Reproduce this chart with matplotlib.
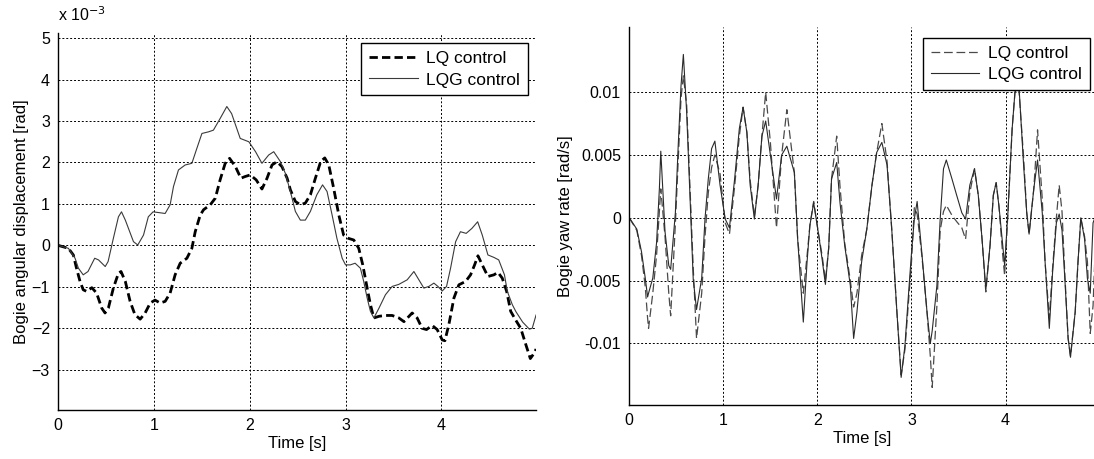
import numpy as np
import matplotlib
matplotlib.use("Agg")
import matplotlib.pyplot as plt

plt.rcParams["font.family"] = ["Liberation Sans", "DejaVu Sans"]

# [DATA] left panel: bogie angular displacement, units of 1e-3 rad
t_lqg = [0, 0.105, 0.175, 0.21, 0.26, 0.31, 0.38, 0.42, 0.49, 0.52, 0.575, 0.628, 0.66, 0.70,
         0.785, 0.83, 0.89, 0.94, 0.99, 1.116, 1.168, 1.203, 1.255, 1.325, 1.395, 1.447, 1.50,
         1.57, 1.62, 1.69, 1.76, 1.81, 1.90, 1.99, 2.06, 2.127, 2.197, 2.25, 2.32, 2.371, 2.424,
         2.476, 2.528, 2.58, 2.633, 2.70, 2.76, 2.807, 2.86, 2.91, 2.965, 3.0, 3.05, 3.10, 3.155,
         3.19, 3.226, 3.26, 3.296, 3.35, 3.417, 3.487, 3.557, 3.644, 3.714, 3.766, 3.818, 3.87,
         3.923, 3.965, 4.01, 4.055, 4.097, 4.15, 4.2, 4.26, 4.32, 4.38, 4.428, 4.487, 4.55, 4.60,
         4.66, 4.69, 4.742, 4.78, 4.85, 4.92, 4.95, 4.99]
disp_lqg = [0, -0.07, -0.31, -0.55, -0.71, -0.63, -0.31, -0.35, -0.51, -0.39, 0.17, 0.69, 0.81,
            0.61, 0.09, 0.01, 0.25, 0.69, 0.81, 0.77, 0.98, 1.42, 1.82, 1.94, 1.98, 2.34, 2.70,
            2.74, 2.78, 3.06, 3.35, 3.18, 2.58, 2.50, 2.26, 1.98, 2.18, 2.26, 2.02, 1.74, 1.30,
            0.82, 0.61, 0.61, 0.82, 1.22, 1.46, 1.30, 0.73, 0.17, -0.31, -0.47, -0.47, -0.43,
            -0.55, -0.87, -1.27, -1.59, -1.75, -1.51, -1.19, -0.99, -0.94, -0.83, -0.63, -0.83,
            -1.03, -0.99, -0.91, -0.99, -1.10, -0.99, -0.55, 0.09, 0.33, 0.29, 0.41, 0.57, 0.25,
            -0.23, -0.29, -0.35, -0.71, -1.11, -1.43, -1.6, -1.85, -2.02, -2.0, -1.68]

t_lq = [0, 0.105, 0.157, 0.19, 0.227, 0.26, 0.296, 0.35, 0.40, 0.453, 0.488, 0.523, 0.575, 0.628,
        0.655, 0.70, 0.75, 0.80, 0.855, 0.907, 0.96, 1.01, 1.064, 1.116, 1.168, 1.22, 1.273,
        1.343, 1.395, 1.43, 1.482, 1.517, 1.587, 1.64, 1.69, 1.743, 1.789, 1.85, 1.907, 1.95,
        2.005, 2.067, 2.127, 2.18, 2.232, 2.284, 2.336, 2.39, 2.424, 2.476, 2.528, 2.58, 2.633,
        2.685, 2.74, 2.783, 2.825, 2.876, 2.93, 2.98, 3.03, 3.086, 3.138, 3.18, 3.226, 3.26,
        3.296, 3.35, 3.417, 3.487, 3.557, 3.61, 3.696, 3.748, 3.8, 3.846, 3.905, 3.957, 4.01,
        4.038, 4.08, 4.132, 4.184, 4.254, 4.306, 4.348, 4.383, 4.428, 4.487, 4.55, 4.592, 4.637,
        4.683, 4.725, 4.777, 4.83, 4.88, 4.93, 4.97, 4.99]
disp_lq = [0, -0.07, -0.23, -0.55, -0.87, -1.07, -1.11, -1.02, -1.15, -1.51, -1.63, -1.51, -1.03,
           -0.67, -0.63, -0.87, -1.35, -1.67, -1.78, -1.63, -1.39, -1.32, -1.39, -1.35, -1.15,
           -0.71, -0.43, -0.31, -0.07, 0.33, 0.73, 0.86, 0.98, 1.14, 1.58, 1.98, 2.10, 1.90, 1.62,
           1.66, 1.70, 1.58, 1.36, 1.62, 1.94, 2.02, 1.90, 1.62, 1.34, 1.06, 0.98, 1.02, 1.22,
           1.62, 2.02, 2.11, 1.94, 1.38, 0.73, 0.25, 0.17, 0.13, -0.07, -0.47, -1.03, -1.43,
           -1.75, -1.71, -1.69, -1.69, -1.75, -1.84, -1.63, -1.75, -2.0, -2.03, -1.93, -2.03,
           -2.28, -2.3, -1.90, -1.27, -0.95, -0.87, -0.71, -0.47, -0.25, -0.47, -0.75, -0.71,
           -0.65, -0.79, -1.11, -1.59, -1.80, -2.0, -2.37, -2.73, -2.6, -2.5]

# [DATA] right panel: bogie yaw rate, units of 1e-3 rad/s
t_yaw = [0, 0.08, 0.13, 0.17, 0.195, 0.205, 0.25, 0.29, 0.32, 0.335, 0.38, 0.42, 0.44, 0.49,
         0.52, 0.55, 0.575, 0.61, 0.645, 0.68, 0.715, 0.77, 0.805, 0.84, 0.875, 0.91, 0.965,
         1.02, 1.065, 1.12, 1.17, 1.21, 1.25, 1.285, 1.33, 1.37, 1.41, 1.45, 1.50, 1.565, 1.62,
         1.675, 1.755, 1.79, 1.85, 1.89, 1.92, 1.96, 2.01, 2.05, 2.085, 2.12, 2.15, 2.205, 2.24,
         2.29, 2.35, 2.385, 2.42, 2.47, 2.525, 2.58, 2.63, 2.685, 2.74, 2.79, 2.845, 2.89, 2.93,
         2.97, 3.0, 3.03, 3.06, 3.11, 3.165, 3.2, 3.22, 3.27, 3.305, 3.34, 3.37, 3.43, 3.48,
         3.535, 3.575, 3.62, 3.67, 3.71, 3.75, 3.79, 3.835, 3.87, 3.9, 3.93, 3.97, 3.99, 4.025,
         4.07, 4.1, 4.14, 4.19, 4.225, 4.25, 4.3, 4.34, 4.39, 4.42, 4.465, 4.5, 4.54, 4.57, 4.6,
         4.63, 4.665, 4.69, 4.74, 4.77, 4.8, 4.84, 4.87, 4.9, 4.93, 4.95]
yaw_lqg = [0, -0.9, -2.7, -4.8, -6.3, -6.0, -4.8, -2.0, 2.3, 5.3, -1.1, -3.8, -4.1, 0.4, 5.7,
           10.5, 13.0, 8.4, 1.8, -4.9, -7.3, -4.8, -0.1, 3.1, 5.5, 6.1, 2.6, -0.1, -0.8, 3.1,
           7.1, 8.8, 6.8, 2.6, -0.1, 2.6, 6.5, 7.7, 5.0, 1.5, 5.0, 5.7, 3.6, -1.7, -8.3, -3.5,
           -0.6, 1.2, -1.2, -3.3, -5.3, -2.4, 3.1, 4.4, 1.2, -2.2, -5.4, -9.6, -7.5, -3.5, -0.9,
           2.6, 5.2, 6.0, 4.2, -0.9, -7.5, -12.7, -10.2, -5.9, -2.8, -0.1, 1.3, -2.8, -7.5,
           -10.0, -9.0, -5.4, -0.1, 3.9, 4.6, 3.1, 1.8, 0.4, -0.1, 2.6, 3.9, 1.8, -1.7, -5.7,
           -2.2, 1.8, 2.8, 0.9, -2.2, -3.8, 0.4, 7.1, 10.0, 10.8, 4.4, 0.4, -1.3, 2.3, 4.6, 0.4,
           -3.5, -8.8, -4.3, -0.4, 0.3, -1.0, -4.85, -9.6, -11.1, -7.5, -3.5, 0, -1.7, -4.85,
           -6.0, -0.4, 0.0]
yaw_lq = [0, -1.0, -3.0, -5.5, -8.0, -8.8, -6.0, -3.0, 0.5, 2.3, -1.5, -6.0, -7.8, -0.5, 4.5,
          9.5, 11.3, 9.0, 2.5, -4.0, -9.6, -6.0, -1.5, 2.0, 4.0, 5.0, 3.5, -0.4, -1.3, 2.5, 6.5,
          8.8, 6.8, 3.0, 0.1, 2.6, 6.5, 10.0, 6.0, -0.8, 5.0, 8.6, 3.6, -1.7, -6.0, -3.0, -0.6,
          1.3, -1.2, -3.0, -5.0, -2.4, 3.1, 6.5, 2.5, -2.0, -5.0, -7.1, -6.0, -3.0, -0.9, 2.6,
          5.2, 7.5, 4.5, -0.9, -7.5, -12.5, -10.5, -6.5, -3.5, 0.8, 0.3, -3.0, -7.5, -11.0,
          -13.5, -7.0, -1.0, 0.5, 1.0, 0.2, -0.3, -0.8, -1.7, 2.0, 3.9, 1.8, -1.7, -5.9, -2.2,
          1.8, 2.8, 0.9, -3.0, -4.6, 0.4, 7.1, 10.0, 10.4, 5.0, 0.4, -1.3, 2.3, 7.0, 1.5, -3.5,
          -8.0, -4.0, 0, 2.6, 0.5, -4.5, -9.6, -11.0, -7.5, -3.5, 0, -1.5, -3.5, -9.2, -7.0,
          -3.0]

labels = ["LQ control", "LQG control"]
grid_kw = dict(color="black", linestyle=(0, (2, 2)), linewidth=0.7)
legend_kw = dict(loc="upper right", fontsize=12.5, fancybox=False, edgecolor="black",
                 framealpha=1, handlelength=2.8, handletextpad=0.5, borderpad=0.45,
                 labelspacing=0.35, borderaxespad=0)


def style_axes(ax):
    for side in ["top", "right"]:
        ax.spines[side].set_visible(False)
    ax.spines["left"].set_linewidth(1.0)
    ax.spines["bottom"].set_linewidth(1.0)
    ax.tick_params(direction="in", length=0, labelsize=11.5, pad=6)
    ax.grid(True, **grid_kw)
    ax.set_axisbelow(True)


fig = plt.figure(figsize=(10.94, 4.59), dpi=100)

# left panel
ax1 = fig.add_axes([0.0533, 0.1068, 0.4367, 0.821])
ax1.plot(t_lq, disp_lq, color="black", linestyle=(0, (3, 1.5)), linewidth=2.0, label=labels[0])
ax1.plot(t_lqg, disp_lqg, color="#3a3a3a", linestyle="-", linewidth=0.8, label=labels[1])
ax1.set_xlim(0, 4.99)
ax1.set_ylim(-3.97, 5.12)
ax1.set_xticks([0, 1, 2, 3, 4])
ax1.set_yticks([-3, -2, -1, 0, 1, 2, 3, 4, 5])
style_axes(ax1)
ax1.set_xlabel("Time [s]", fontsize=12, labelpad=2)
ax1.set_ylabel("Bogie angular displacement [rad]", fontsize=12, labelpad=2)
ax1.text(0.0, 1.025, "x 10$^{-3}$", transform=ax1.transAxes, fontsize=11.5, ha="left", va="bottom")
leg1 = ax1.legend(bbox_to_anchor=(0.983, 0.973), **legend_kw)
leg1.get_frame().set_linewidth(1.0)
leg1.set_zorder(10)

# right panel
ax2 = fig.add_axes([0.5752, 0.1176, 0.4248, 0.824])
yaw_lq_arr = np.array(yaw_lq) * 1e-3
yaw_lqg_arr = np.array(yaw_lqg) * 1e-3
ax2.plot(t_yaw, yaw_lq_arr, color="#4a4a4a", linestyle=(0, (7, 3)), linewidth=0.9, label=labels[0])
ax2.plot(t_yaw, yaw_lqg_arr, color="#2a2a2a", linestyle="-", linewidth=0.8, label=labels[1])
ax2.set_xlim(0, 4.94)
ax2.set_ylim(-0.0149, 0.0152)
ax2.set_xticks([0, 1, 2, 3, 4])
ax2.set_yticks([-0.01, -0.005, 0, 0.005, 0.01])
ax2.set_yticklabels(["-0.01", "-0.005", "0", "0.005", "0.01"])
style_axes(ax2)
ax2.set_xlabel("Time [s]", fontsize=12, labelpad=2)
ax2.set_ylabel("Bogie yaw rate [rad/s]", fontsize=12, labelpad=2)
leg2 = ax2.legend(bbox_to_anchor=(0.991, 0.970), **legend_kw)
leg2.get_frame().set_linewidth(1.0)
leg2.set_zorder(10)

fig.savefig("out.png", dpi=100)
